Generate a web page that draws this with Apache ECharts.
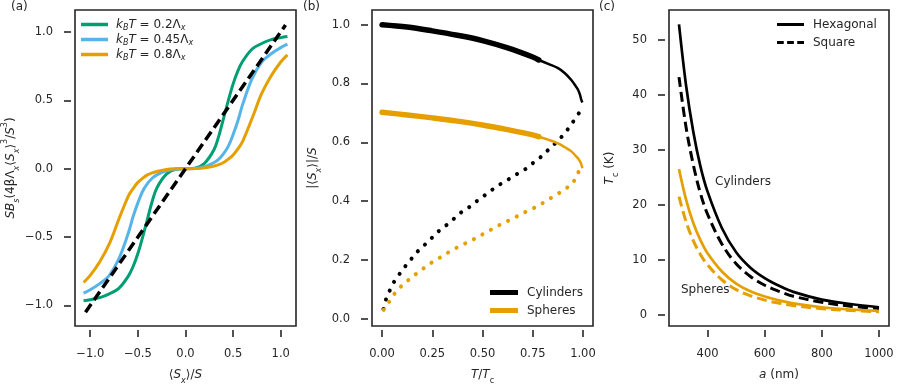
<!DOCTYPE html>
<html><head><meta charset="utf-8">
<script src="https://cdn.jsdelivr.net/npm/echarts@6/dist/echarts.min.js"></script>
<style>html,body{margin:0;padding:0;background:#fff}#c{width:902px;height:384px}</style>
</head><body><div id="c"></div>
<script>
// ---------- Panel (a) data ----------
const aX = [-1.07,-1.0,-0.9,-0.8,-0.7,-0.6,-0.55,-0.5,-0.45,-0.4,-0.35,-0.3,-0.2,-0.1,0,0.1,0.2,0.3,0.35,0.4,0.45,0.5,0.55,0.6,0.7,0.8,0.9,1.0,1.07];
const aGreen = [-0.966,-0.958,-0.943,-0.915,-0.875,-0.785,-0.715,-0.62,-0.50,-0.37,-0.24,-0.14,-0.04,-0.004,0,0.004,0.04,0.14,0.24,0.37,0.50,0.62,0.715,0.785,0.875,0.915,0.943,0.958,0.966];
const aBlue = [-0.91,-0.885,-0.84,-0.78,-0.66,-0.47,-0.35,-0.25,-0.165,-0.11,-0.07,-0.045,-0.015,-0.002,0,0.002,0.015,0.045,0.07,0.11,0.165,0.25,0.35,0.47,0.66,0.78,0.84,0.885,0.91];
const aOrange = [-0.832,-0.78,-0.68,-0.55,-0.37,-0.2,-0.145,-0.1,-0.07,-0.045,-0.03,-0.02,-0.006,-0.001,0,0.001,0.006,0.02,0.03,0.045,0.07,0.1,0.145,0.2,0.37,0.55,0.68,0.78,0.832];
const aDashX = [-1.05, 1.05];
const aDashY = [-1.05, 1.05];
const aTicks = [-1.0,-0.5,0,0.5,1.0];

// ---------- Panel (b) data ----------
const bThickT = [0,0.125,0.25,0.375,0.5,0.625,0.75,0.78];
const bCylThick = [1.0,0.992,0.979,0.964,0.946,0.921,0.89,0.88];
const bSphThick = [0.702,0.693,0.683,0.672,0.659,0.643,0.625,0.619];
const bThinT = [0.78,0.83,0.876,0.91,0.942,0.965,0.976,0.985,0.992,0.997];
const bCylThin = [0.88,0.866,0.852,0.835,0.812,0.79,0.778,0.762,0.744,0.735];
const bSphThin = [0.619,0.608,0.596,0.583,0.569,0.553,0.545,0.535,0.525,0.512];
const bCylDotT = [0.007,0.02,0.037,0.057,0.084,0.112,0.142,0.172,0.206,0.241,0.274,0.311,0.347,0.381,0.431,0.468,0.506,0.545,0.583,0.625,0.667,0.712,0.754,0.795,0.836,0.872,0.906,0.934,0.959,0.989];
const bCylDot = [0.033,0.066,0.094,0.122,0.149,0.175,0.2,0.225,0.247,0.27,0.293,0.313,0.333,0.355,0.378,0.398,0.417,0.437,0.455,0.472,0.49,0.508,0.531,0.553,0.58,0.603,0.628,0.653,0.678,0.708];
const bSphDotT = [0.008,0.023,0.047,0.077,0.109,0.144,0.182,0.221,0.259,0.299,0.339,0.382,0.438,0.48,0.521,0.563,0.605,0.647,0.688,0.732,0.775,0.827,0.869,0.909,0.946,0.972,0.984];
const bSphDot = [0.03,0.043,0.071,0.097,0.119,0.138,0.159,0.178,0.196,0.212,0.229,0.245,0.264,0.279,0.295,0.31,0.326,0.339,0.354,0.369,0.383,0.405,0.422,0.44,0.46,0.489,0.512];
const bXTicks = [0,0.25,0.5,0.75,1.0];
const bYTicks = [0,0.2,0.4,0.6,0.8,1.0];

// ---------- Panel (c) data ----------
const cA = [300,325,350,375,400,450,500,550,600,650,700,800,900,1000];
const cHexCyl = [52.8,41.6,33.3,27.0,22.4,15.8,11.4,8.6,6.7,5.3,4.2,2.8,2.0,1.4];
const cSqCyl = [43.2,34.0,27.3,22.1,18.3,12.9,9.3,7.0,5.4,4.3,3.4,2.3,1.6,1.2];
const cHexSph = [26.5,20.9,16.7,13.6,11.2,7.9,5.7,4.3,3.35,2.65,2.1,1.4,1.0,0.72];
const cSqSph = [21.5,16.9,13.5,11.0,9.1,6.4,4.6,3.5,2.7,2.15,1.7,1.15,0.8,0.6];
const cXTicks = [400,600,800,1000];
const cYTicks = [0,10,20,30,40,50];

// ---------- styling ----------
const fam = "'DejaVu Sans', sans-serif";
const tc = '#262626';
const GREEN = '#009E73', BLUE = '#56B4E9', ORANGE = '#E69F00', BLACK = '#000000';
const zip = (xs, ys) => xs.map((x, i) => [x, ys[i]]);
const minus = s => s.replace('-', '\u2212');

const rich = {
  i: {fontStyle:'italic', fontSize:12, fontFamily:fam, color:tc, lineHeight:20},
  n: {fontSize:12, fontFamily:fam, color:tc, lineHeight:20},
  sub: {fontStyle:'italic', fontSize:8, fontFamily:fam, color:tc, verticalAlign:'bottom', lineHeight:11},
  subr: {fontSize:8, fontFamily:fam, color:tc, verticalAlign:'bottom', lineHeight:11},
  sup: {fontSize:8, fontFamily:fam, color:tc, verticalAlign:'top', lineHeight:12}
};
const nameStyle = {fontSize:12, fontFamily:fam, color:tc, lineHeight:20, rich: rich};

function mkAxis(grid, min, max, ticks, fmt, margin, extra) {
  return Object.assign({
    type:'value', gridIndex:grid, min:min, max:max, offset:4,
    axisLine:{show:false, onZero:false},
    axisTick:{show:true, length:7, customValues:ticks, lineStyle:{color:tc, width:1.6}},
    axisLabel:{customValues:ticks, color:tc, fontSize:11.5, fontFamily:fam, margin:margin, formatter:fmt},
    splitLine:{show:false},
    nameLocation:'middle', nameTextStyle:nameStyle
  }, extra || {});
}
const f1 = v => minus(v.toFixed(1));
const f2 = v => minus(v.toFixed(2));
const f0 = v => minus(v.toFixed(0));

const gridBase = {show:true, borderColor:tc, borderWidth:1.6, backgroundColor:'transparent',
  containLabel:false, outerBoundsMode:'none'};

const legendText = {fontSize:12, fontFamily:fam, color:tc, lineHeight:15, padding:[0,0,0,3], rich: {
  i: {fontStyle:'italic', fontSize:12, fontFamily:fam, color:tc, lineHeight:15},
  n: {fontSize:12, fontFamily:fam, color:tc, lineHeight:15},
  sub: {fontStyle:'italic', fontSize:8, fontFamily:fam, color:tc, verticalAlign:'bottom', lineHeight:9}
}};
const legendLabels = {
  'g02':'{i|k}{sub|B}{i|T} = 0.2Λ{sub|x}',
  'g045':'{i|k}{sub|B}{i|T} = 0.45Λ{sub|x}',
  'g08':'{i|k}{sub|B}{i|T} = 0.8Λ{sub|x}'
};
const plainLegendText = {fontSize:12, fontFamily:fam, color:tc, lineHeight:15, padding:[0,0,0,4]};
const DASH_ICON = 'path://M0,0h7v3h-7z M10.5,0h7v3h-7z M21,0h7v3h-7z';

const lineS = (name, xi, xs, ys, color, width, type, extra) => Object.assign({
  type:'line', name:name, xAxisIndex:xi, yAxisIndex:xi, data:zip(xs, ys),
  symbol:'none', showSymbol:false, smooth:0.35,
  lineStyle:{color:color, width:width, type:type || 'solid'},
  itemStyle:{color:color}, emphasis:{disabled:true}, silent:true, animation:false
}, extra || {});

const option = {
  animation:false,
  textStyle:{fontFamily:fam},
  grid:[
    Object.assign({left:75, top:10, width:221, height:316}, gridBase),
    Object.assign({left:372, top:10, width:221, height:316}, gridBase),
    Object.assign({left:669, top:10, width:220, height:316}, gridBase)
  ],
  xAxis:[
    mkAxis(0, -1.16, 1.16, aTicks, f1, 18, {name:'⟨{i|S}{sub|x}⟩/{i|S}', nameGap:33}),
    mkAxis(1, -0.05, 1.05, bXTicks, f2, 18, {name:'{i|T}/{i|T}{subr|c}', nameGap:33}),
    mkAxis(2, 265, 1035, cXTicks, f0, 18, {name:'{i|a} (nm)', nameGap:33})
  ],
  yAxis:[
    mkAxis(0, -1.15, 1.16, aTicks, f1, 18, {name:'{i|SB}{sub|s}(4β{n|Λ}{sub|x}⟨{i|S}{sub|x}⟩{sup|3}/{i|S}{sup|3})', nameGap:47}),
    mkAxis(1, -0.025, 1.05, bYTicks, f1, 18, {name:'|⟨{i|S}{sub|x}⟩|/{i|S}', nameGap:45}),
    mkAxis(2, -2.0, 55.4, cYTicks, f0, 18, {name:'{i|T}{subr|c} (K)', nameGap:45})
  ],
  legend:[
    {data:[{name:'g02', icon:'rect'},{name:'g045', icon:'rect'},{name:'g08', icon:'rect'}],
     left:81, top:17, orient:'vertical', itemWidth:27, itemHeight:3.5, itemGap:0,
     formatter:n => legendLabels[n], textStyle:legendText, selectedMode:false, padding:0},
    {data:[{name:'Cylinders', icon:'rect'},{name:'Spheres', icon:'rect'}],
     left:490, top:285, orient:'vertical', itemWidth:28, itemHeight:5, itemGap:3,
     textStyle:plainLegendText, selectedMode:false, padding:0},
    {data:[{name:'Hexagonal', icon:'rect'},{name:'Square', icon:DASH_ICON}],
     left:777, top:17, orient:'vertical', itemWidth:27, itemHeight:3, itemGap:3,
     textStyle:plainLegendText, selectedMode:false, padding:0}
  ],
  series:[
    lineS('g02', 0, aX, aGreen, GREEN, 3),
    lineS('g045', 0, aX, aBlue, BLUE, 3),
    lineS('g08', 0, aX, aOrange, ORANGE, 3),
    lineS('dash', 0, aDashX, aDashY, BLACK, 3.5, [10,5], {smooth:false}),

    lineS('Cylinders', 1, bThickT, bCylThick, BLACK, 5.5, 'solid', {lineStyle:{color:BLACK, width:5.5, cap:'round'}}),
    lineS('cylThin', 1, bThinT, bCylThin, BLACK, 2.5),
    lineS('cylDot', 1, bCylDotT, bCylDot, BLACK, 4, [0.1,9.6], {lineStyle:{color:BLACK, width:4, type:[0.1,9.6], cap:'round'}}),
    lineS('Spheres', 1, bThickT, bSphThick, ORANGE, 5.5, 'solid', {lineStyle:{color:ORANGE, width:5.5, cap:'round'}}),
    lineS('sphThin', 1, bThinT, bSphThin, ORANGE, 2.5),
    lineS('sphDot', 1, bSphDotT, bSphDot, ORANGE, 4, [0.1,9.6], {lineStyle:{color:ORANGE, width:4, type:[0.1,9.6], cap:'round'}}),

    lineS('Hexagonal', 2, cA, cHexCyl, BLACK, 2.7),
    lineS('Square', 2, cA, cSqCyl, BLACK, 3, [10,5]),
    lineS('hexSph', 2, cA, cHexSph, ORANGE, 2.7),
    lineS('sqSph', 2, cA, cSqSph, ORANGE, 3, [10,5])
  ],
  graphic:[
    {type:'text', left:11, top:1, style:{text:'(a)', fontSize:12, fontFamily:fam, fill:tc}},
    {type:'text', left:303, top:1, style:{text:'(b)', fontSize:12, fontFamily:fam, fill:tc}},
    {type:'text', left:599, top:1, style:{text:'(c)', fontSize:12, fontFamily:fam, fill:tc}},
    {type:'text', left:715, top:176, style:{text:'Cylinders', fontSize:12, fontFamily:fam, fill:tc}},
    {type:'text', left:681, top:284, style:{text:'Spheres', fontSize:12, fontFamily:fam, fill:tc}}
  ]
};
const chart = echarts.init(document.getElementById('c'), null, {renderer:'canvas'});
chart.setOption(option);
</script></body></html>
